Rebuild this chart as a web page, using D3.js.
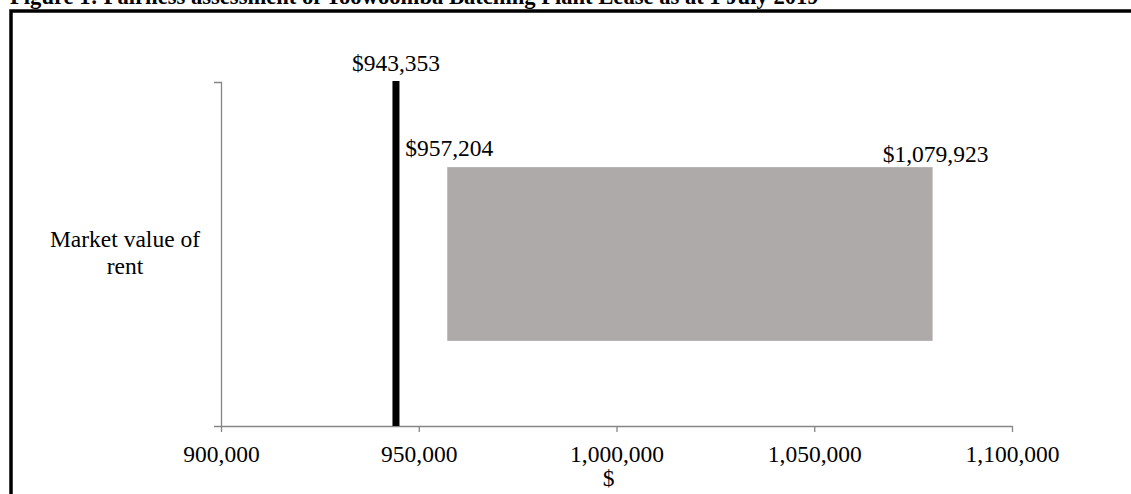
<!DOCTYPE html>
<html>
<head>
<meta charset="utf-8">
<script src="https://cdn.jsdelivr.net/npm/d3@7"></script>
<style>
  body { margin: 0; background: #fff; }
  svg text { font-family: "Liberation Serif", "Times New Roman", serif; fill: #000; }
</style>
</head>
<body>
<div class="draw-chart"></div>
<script>
// chart values
const categories = ["Market value of rent"];
const rentLow = [957204];
const rentHigh = [1079923];
const agreedRent = [943353];
const xTicks = [900000, 950000, 1000000, 1050000, 1100000];
const xTitle = "$";
const title = "Figure 1: Fairness assessment of Toowoomba Batching Plant Lease as at 1 July 2019";

const draw = () => {
  const W = 1131, H = 494;
  const fmt = d3.format(",");
  const money = (v) => "$" + fmt(v);

  let svg = d3
    .select(".draw-chart")
    .append("svg")
    .attr("width", W)
    .attr("height", H);

  // title, mostly cut off by the top edge (as in the source)
  svg
    .append("text")
    .attr("x", 10)
    .attr("y", 4)
    .attr("font-size", 22.6)
    .attr("font-weight", "bold")
    .text(title);

  // frame round the chart (runs off right and bottom)
  svg
    .append("rect")
    .attr("x", 11)
    .attr("y", 11)
    .attr("width", W + 20)
    .attr("height", H + 20)
    .attr("fill", "none")
    .attr("stroke", "#000")
    .attr("stroke-width", 3.5);

  let x = d3.scaleLinear().domain([900000, 1100000]).range([221, 1012]);
  let y = d3
    .scaleBand()
    .domain(categories)
    .range([82, 426])
    .paddingInner(0)
    .paddingOuter(0.49);

  // X axis
  let xAxis = svg
    .append("g")
    .attr("transform", "translate(0,426)")
    .call(
      d3
        .axisBottom(x)
        .tickValues(xTicks)
        .tickFormat(fmt)
        .tickSizeInner(6)
        .tickSizeOuter(0)
        .tickPadding(13)
    );
  xAxis.attr("font-family", null);
  xAxis.selectAll("path, line").attr("stroke", "#868686").attr("stroke-width", 1.3);
  xAxis.selectAll("text").attr("font-size", 23.5);

  // Y axis (category)
  let yAxis = svg
    .append("g")
    .attr("transform", "translate(221,0)")
    .call(d3.axisLeft(y).tickSizeInner(0).tickSizeOuter(7).tickFormat(""));
  yAxis.selectAll("path").attr("stroke", "#868686").attr("stroke-width", 1.3);

  // category label
  let catLabel = svg
    .selectAll(".cat")
    .data(categories)
    .enter()
    .append("text")
    .attr("class", "cat")
    .attr("text-anchor", "middle")
    .attr("font-size", 23.5);
  catLabel
    .append("tspan")
    .attr("x", 125)
    .attr("y", (d) => y(d) + y.bandwidth() / 2 - 7)
    .text("Market value of");
  catLabel
    .append("tspan")
    .attr("x", 125)
    .attr("y", (d) => y(d) + y.bandwidth() / 2 + 20)
    .text("rent");

  // range of market rent
  svg
    .selectAll(".range")
    .data(categories)
    .enter()
    .append("rect")
    .attr("class", "range")
    .attr("x", (d, i) => x(rentLow[i]))
    .attr("width", (d, i) => x(rentHigh[i]) - x(rentLow[i]))
    .attr("y", (d) => y(d))
    .attr("height", y.bandwidth())
    .attr("fill", "#AEAAAA");

  // agreed rent marker
  svg
    .selectAll(".marker")
    .data(agreedRent)
    .enter()
    .append("rect")
    .attr("class", "marker")
    .attr("x", (d) => x(d))
    .attr("width", 7)
    .attr("y", 81)
    .attr("height", 426 - 81)
    .attr("fill", "#000");

  // data labels
  svg
    .selectAll(".lbl-marker")
    .data(agreedRent)
    .enter()
    .append("text")
    .attr("text-anchor", "middle")
    .attr("font-size", 23.5)
    .attr("x", (d) => x(d) + 3.5)
    .attr("y", 71)
    .text(money);

  svg
    .append("text")
    .attr("text-anchor", "middle")
    .attr("font-size", 23.5)
    .attr("x", x(rentLow[0]) + 2)
    .attr("y", y(categories[0]) - 11)
    .text(money(rentLow[0]));

  svg
    .append("text")
    .attr("text-anchor", "middle")
    .attr("font-size", 23.5)
    .attr("x", x(rentHigh[0]) + 3)
    .attr("y", y(categories[0]) - 5)
    .text(money(rentHigh[0]));

  // x axis title
  svg
    .append("text")
    .attr("text-anchor", "middle")
    .attr("font-size", 23.5)
    .attr("x", (x.range()[0] + x.range()[1]) / 2 - 8)
    .attr("y", 486)
    .text(xTitle);
};

draw();
</script>
</body>
</html>
